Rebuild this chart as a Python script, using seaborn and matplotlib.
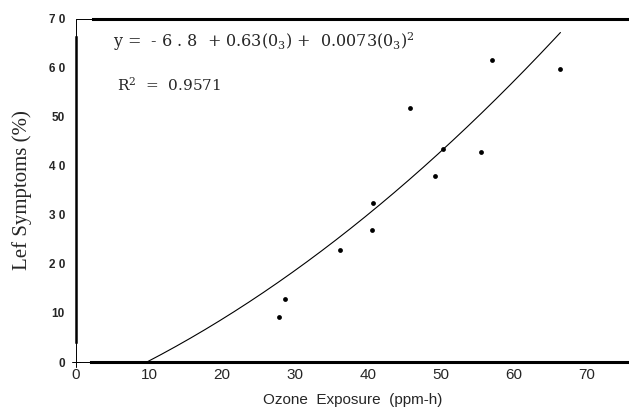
import numpy as np
import pandas as pd
import matplotlib
matplotlib.use("Agg")
import matplotlib.pyplot as plt
import seaborn as sns

# Data
ozone = [27.8, 28.6, 36.2, 40.5, 40.7, 45.8, 49.2, 50.3, 55.5, 57.0, 66.4]
symptoms = [9.2, 12.9, 22.9, 26.9, 32.4, 51.8, 38.0, 43.5, 42.9, 61.6, 59.8]

# fitted quadratic shown on the chart: y = -6.8 + 0.63 x + 0.0073 x^2
fit_coef = [0.0073, 0.63, -6.8]

x_ticks = [0, 10, 20, 30, 40, 50, 60, 70]
x_ticklabels = ['0', '10', '20', '30', '40', '50', '60', '70']
y_ticks = [0, 10, 20, 30, 40, 50, 60, 70]
y_ticklabels = ['0', '10', '2 0', '3 0', '4 0', '50', '6 0', '7 0']

sns.set_style("white")
plt.rcParams['mathtext.fontset'] = 'dejavuserif'

df = pd.DataFrame({'ozone': ozone, 'symptoms': symptoms})

# curve from root of the fit to the largest exposure
x0 = max(np.roots(fit_coef).real)
xs = np.linspace(x0, max(ozone), 200)
curve = pd.DataFrame({'ozone': xs, 'symptoms': np.polyval(fit_coef, xs)})

fig = plt.figure(figsize=(6.29, 4.19), dpi=100)
ax = fig.add_axes([0.121, 0.136, 0.879, 0.819])

sns.lineplot(data=curve, x='ozone', y='symptoms', ax=ax, color='black', linewidth=0.8)
sns.scatterplot(data=df, x='ozone', y='symptoms', ax=ax, color='black', s=12,
                edgecolor='black', linewidth=0)

ax.set_xlim(0, 75.8)
ax.set_ylim(0, 70)

ax.set_xticks(x_ticks)
ax.set_xticklabels(x_ticklabels, fontsize=11, family='Liberation Sans')
ax.set_yticks(y_ticks)
ax.set_yticklabels(y_ticklabels, fontsize=8.5, fontweight='bold', family='Liberation Sans')
ax.tick_params(axis='both', length=0, pad=8)
ax.tick_params(axis='x', pad=4)

ax.set_xlabel('Ozone  Exposure  (ppm-h)', fontsize=11, family='Liberation Sans', labelpad=8)
ax.set_ylabel('Lef Symptoms (%)', fontsize=15, family='Liberation Serif', labelpad=12)

# heavy spines with thin bits near the corners, like the scan
ax.spines['right'].set_visible(False)
ax.spines['top'].set_linewidth(2.2)
ax.spines['top'].set_bounds(2.3, 75.8)
ax.spines['bottom'].set_linewidth(2.2)
ax.spines['bottom'].set_bounds(2.0, 75.8)
ax.spines['left'].set_linewidth(1.8)
ax.spines['left'].set_bounds(4.0, 66.3)
for s in ['top', 'bottom', 'left']:
    ax.spines[s].set_color('black')
ax.plot([0, 2.3], [70, 70], color='black', lw=0.7, clip_on=False)
ax.plot([0, 0], [66.3, 70], color='black', lw=0.7, clip_on=False)
ax.plot([0, 2.0], [0, 0], color='black', lw=0.7, clip_on=False)
ax.plot([0, 0], [-1, 4.0], color='black', lw=0.7, clip_on=False)
ax.plot([-0.6, 0.6], [0, 0], color='black', lw=0.7, clip_on=False)

ax.text(5.1, 64.2, r'y =  - 6 . 8  + 0.63(0$_3$) +  0.0073(0$_3$)$^2$',
        fontsize=11.5, family='DejaVu Serif')
ax.text(5.6, 55.4, r'R$^2$  =  0.9571', fontsize=11, family='DejaVu Serif')

plt.savefig('out.png', dpi=100)
